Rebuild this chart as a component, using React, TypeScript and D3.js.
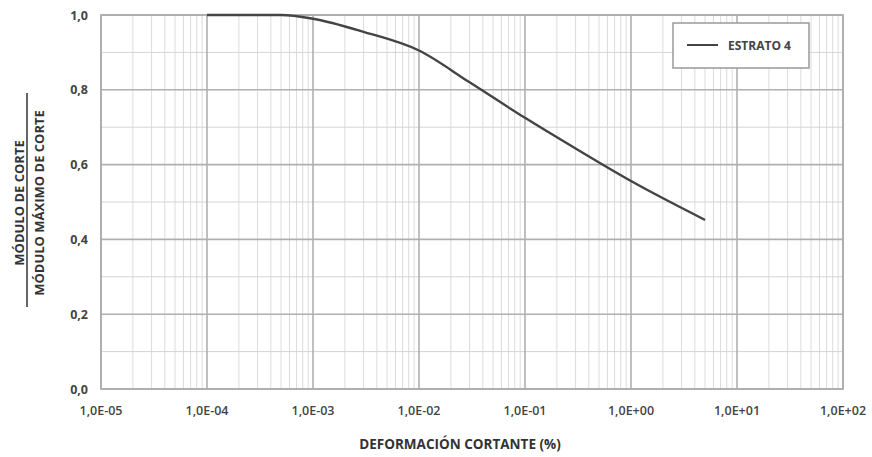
import React from "react";
import * as d3 from "d3";

// Shear strain (%) and normalized shear modulus G/Gmax for ESTRATO 4
const strain = [1e-4, 5e-4, 1e-3, 3e-3, 1e-2, 3e-2, 1e-1, 3e-1, 1, 5];
const modulusRatio = [1.0, 1.0, 0.99, 0.955, 0.905, 0.82, 0.725, 0.643, 0.556, 0.452];

const xTickValues = [1e-5, 1e-4, 1e-3, 1e-2, 1e-1, 1, 10, 100];
const xTickLabels = ["1,0E-05", "1,0E-04", "1,0E-03", "1,0E-02", "1,0E-01", "1,0E+00", "1,0E+01", "1,0E+02"];
const yTickValues = [0, 0.2, 0.4, 0.6, 0.8, 1.0];
const yTickLabels = ["0,0", "0,2", "0,4", "0,6", "0,8", "1,0"];
const seriesName = "ESTRATO 4";

const W = 872;
const H = 457;
const M = { left: 101, right: 843, top: 15, bottom: 389 };
const FONT = "'Open Sans', Lato, sans-serif";

export default function App() {
  const x = d3.scaleLog().domain([1e-5, 100]).range([M.left, M.right]);
  const y = d3.scaleLinear().domain([0, 1]).range([M.bottom, M.top]);

  // minor decade lines 2..9
  const minorX: number[] = [];
  for (let e = -5; e < 2; e++) {
    for (let k = 2; k <= 9; k++) minorX.push(k * Math.pow(10, e));
  }
  const minorY = d3.range(1, 10, 2).map((v) => v / 10);

  const line = d3
    .line<number>()
    .x((_, i) => x(strain[i]))
    .y((d) => y(d))
    .curve(d3.curveMonotoneX);

  const yMid = 203;

  return (
    <svg width={W} height={H} style={{ position: "absolute", left: 0, top: 0, background: "#fff" }}>
      <rect x={0} y={0} width={W} height={H} fill="#fff" />
      {/* minor grid */}
      {minorX.map((v, i) => (
        <line key={"mx" + i} x1={x(v)} x2={x(v)} y1={M.top} y2={M.bottom} stroke="#dcdcdc" strokeWidth={1} />
      ))}
      {minorY.map((v, i) => (
        <line key={"my" + i} x1={M.left} x2={M.right} y1={y(v)} y2={y(v)} stroke="#d4d4d4" strokeWidth={1} />
      ))}
      {/* major grid */}
      {xTickValues.map((v, i) => (
        <line key={"gx" + i} x1={x(v)} x2={x(v)} y1={M.top} y2={M.bottom} stroke="#b0b0b0" strokeWidth={1.6} />
      ))}
      {yTickValues.map((v, i) => (
        <line key={"gy" + i} x1={M.left} x2={M.right} y1={y(v)} y2={y(v)} stroke="#b0b0b0" strokeWidth={1.6} />
      ))}
      <rect x={M.left} y={M.top} width={M.right - M.left} height={M.bottom - M.top} fill="none" stroke="#aaa" strokeWidth={1.6} />

      {/* curve */}
      <path d={line(modulusRatio) || ""} fill="none" stroke="#444" strokeWidth={2.4} />

      {/* y tick labels */}
      {yTickValues.map((v, i) => (
        <text key={"yl" + i} x={88} y={y(v) + 4.5} textAnchor="end" fontFamily={FONT} fontWeight={700} fontSize={12.5} fill="#444">
          {yTickLabels[i]}
        </text>
      ))}
      {/* x tick labels */}
      {xTickValues.map((v, i) => (
        <text key={"xl" + i} x={x(v)} y={415} textAnchor="middle" fontFamily={FONT} fontWeight={600} fontSize={12.5} fill="#444">
          {xTickLabels[i]}
        </text>
      ))}

      {/* x title */}
      <text x={460} y={449} textAnchor="middle" fontFamily={FONT} fontWeight={700} fontSize={13.5} fill="#333">
        DEFORMACIÓN CORTANTE (%)
      </text>

      {/* y title as fraction */}
      <g transform={`translate(0, ${yMid})`}>
        <text transform="translate(24,0) rotate(-90)" textAnchor="middle" fontFamily={FONT} fontWeight={700} fontSize={13} fill="#333">
          MÓDULO DE CORTE
        </text>
        <line x1={27} x2={27} y1={-110} y2={104} stroke="#666" strokeWidth={2} />
        <text transform="translate(44,0) rotate(-90)" textAnchor="middle" fontFamily={FONT} fontWeight={700} fontSize={13} fill="#333">
          MÓDULO MÁXIMO DE CORTE
        </text>
      </g>

      {/* legend */}
      <rect x={673} y={23} width={136} height={45} fill="#fff" stroke="#999" strokeWidth={1.5} />
      <line x1={687} x2={718} y1={45} y2={45} stroke="#444" strokeWidth={2} />
      <text x={728} y={49.5} fontFamily={FONT} fontWeight={700} fontSize={12} fill="#444">
        {seriesName}
      </text>
    </svg>
  );
}
